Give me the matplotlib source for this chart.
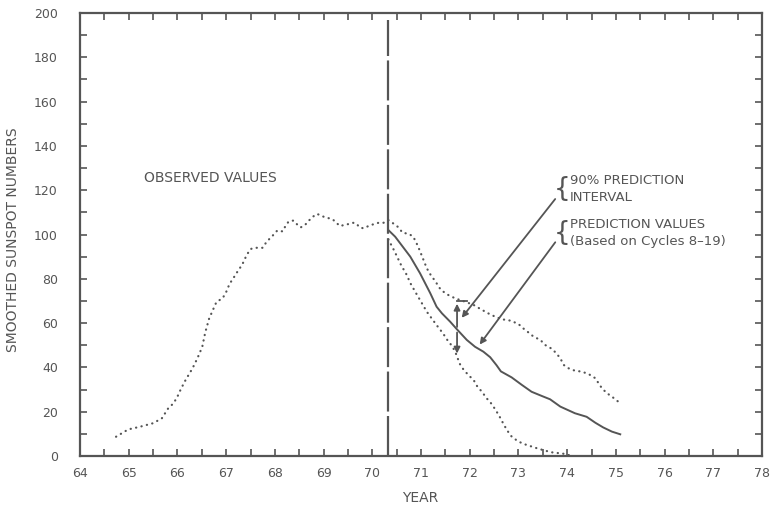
import numpy as np
import matplotlib.pyplot as plt
from matplotlib.ticker import MultipleLocator

plt.rcParams['font.family'] = ['DejaVu Sans']
ink = '#555555'

# 观测值（点线）
obs_year = [64.74, 64.99, 65.23, 65.5, 65.68, 65.81, 65.92, 66.0, 66.07, 66.16, 66.24, 66.31,
            66.41, 66.51, 66.57, 66.65, 66.74, 66.8, 66.93, 67.0, 67.07, 67.16, 67.24, 67.33,
            67.4, 67.49, 67.57, 67.67, 67.75, 67.83, 67.96, 68.05, 68.16, 68.21, 68.28, 68.38,
            68.45, 68.53, 68.62, 68.69, 68.78, 68.86, 68.94, 69.03, 69.12, 69.19, 69.26, 69.34,
            69.42, 69.51, 69.6, 69.67, 69.74, 69.82, 69.92, 70.02, 70.13, 70.23, 70.33]
obs_val = [8.7, 12.0, 13.2, 14.8, 17.0, 21.5, 23.8, 26.8, 30.2, 34.0, 37.0, 39.6,
           44.1, 49.3, 55.7, 62.0, 66.5, 69.5, 71.3, 74.0, 77.7, 80.7, 83.5, 86.4,
           89.7, 93.3, 94.0, 94.0, 94.0, 96.7, 99.6, 101.8, 101.4, 103.5, 105.8, 106.3,
           104.7, 103.2, 104.3, 106.1, 108.0, 109.3, 108.7, 107.7, 107.3, 106.8, 105.3, 103.8,
           104.3, 104.7, 105.3, 105.0, 103.2, 102.8, 103.8, 104.6, 105.3, 105.3, 106.2]

# 90% 预测区间上界
up_year = [70.33, 70.43, 70.54, 70.62, 70.75, 70.84, 70.9, 70.97, 71.12, 71.2, 71.29, 71.41,
           71.56, 71.7, 71.9, 72.08, 72.21, 72.38, 72.55, 72.7, 72.84, 73.0, 73.1, 73.21,
           73.31, 73.45, 73.55, 73.67, 73.77, 73.86, 73.93, 74.03, 74.16, 74.3, 74.44, 74.58,
           74.68, 74.8, 74.92, 75.02, 75.12]
up_val = [106.5, 105.0, 103.2, 100.8, 100.3, 99.0, 96.5, 93.0, 84.7, 81.7, 79.0, 74.9,
          72.7, 71.2, 69.7, 68.2, 66.5, 64.4, 62.6, 61.6, 61.1, 59.6, 57.6, 55.7,
          53.9, 52.4, 50.1, 48.6, 46.6, 44.1, 41.1, 39.6, 38.5, 38.1, 37.0, 35.1,
          31.6, 28.6, 26.8, 25.0, 23.5]

# 下界
lo_year = [70.33, 70.45, 70.6, 70.69, 70.79, 70.88, 71.02, 71.12, 71.22, 71.32, 71.45, 71.54,
           71.65, 71.73, 71.79, 71.87, 71.97, 72.08, 72.15, 72.25, 72.35, 72.45, 72.54, 72.62,
           72.69, 72.77, 72.86, 72.98, 73.1, 73.24, 73.38, 73.55, 73.72, 73.89, 74.02, 74.1]
lo_val = [97.8, 92.7, 85.8, 82.5, 77.7, 74.2, 68.9, 65.1, 62.1, 59.1, 55.4, 52.4,
          49.3, 45.6, 41.8, 39.1, 36.6, 34.3, 31.6, 29.0, 26.0, 23.5, 20.5, 17.5,
          14.6, 11.5, 8.8, 6.8, 5.5, 4.5, 3.5, 2.4, 1.5, 1.2, 0.5, 0.0]

# 预测值（实线）
pred_year = [70.33, 70.47, 70.78, 70.98, 71.19, 71.32, 71.43, 71.6, 71.75, 71.94, 72.11, 72.28,
             72.42, 72.55, 72.64, 72.86, 73.07, 73.27, 73.48, 73.65, 73.86, 74.01, 74.16, 74.4,
             74.58, 74.74, 74.92, 75.09]
pred_val = [102.0, 99.0, 90.0, 82.5, 73.5, 67.4, 64.4, 60.6, 56.9, 52.4, 49.3, 47.1,
            44.6, 41.0, 38.2, 35.5, 32.1, 29.0, 27.1, 25.6, 22.3, 20.8, 19.3, 17.7,
            15.0, 12.9, 11.0, 9.8]

x_ticks = list(range(64, 79))
y_ticks = list(range(0, 201, 20))
now_year = 70.32

fig = plt.figure(figsize=(7.7, 5.05), dpi=100)
ax = fig.add_axes([80/770, 49/505, 682/770, 443/505])

dot = (0, (0.1, 2.4))
for xs, ys in [(obs_year, obs_val), (up_year, up_val), (lo_year, lo_val)]:
    ax.plot(xs, ys, color=ink, lw=1.6, ls=dot, dash_capstyle='round')
ax.plot(pred_year, pred_val, color=ink, lw=1.4)
ax.plot([now_year, now_year], [0, 197], color=ink, lw=1.6, ls=(0, (18, 2)))

# 预测区间箭头
ax.annotate('', xy=(71.74, 70), xytext=(71.74, 57),
            arrowprops=dict(arrowstyle='-|>', color=ink, lw=1.3, mutation_scale=9))
ax.annotate('', xy=(71.74, 45), xytext=(71.74, 57),
            arrowprops=dict(arrowstyle='-|>', color=ink, lw=1.3, mutation_scale=9))
ax.plot([71.74, 71.95], [70, 70], color=ink, lw=1.3)

ax.annotate('', xy=(71.8, 61.4), xytext=(73.79, 117),
            arrowprops=dict(arrowstyle='-|>', color=ink, lw=1.3, mutation_scale=9))
ax.annotate('', xy=(72.17, 49.3), xytext=(73.79, 97.5),
            arrowprops=dict(arrowstyle='-|>', color=ink, lw=1.3, mutation_scale=9))

ax.text(73.72, 120.5, '{', fontsize=19, color=ink, ha='left', va='center')
ax.text(73.72, 100.5, '{', fontsize=19, color=ink, ha='left', va='center')
ax.text(74.06, 124.5, '90% PREDICTION', fontsize=9.5, color=ink, va='center')
ax.text(74.06, 116.5, 'INTERVAL', fontsize=9.5, color=ink, va='center')
ax.text(74.06, 104.5, 'PREDICTION VALUES', fontsize=9.5, color=ink, va='center')
ax.text(74.06, 97.0, '(Based on Cycles 8\u201319)', fontsize=9.5, color=ink, va='center')
ax.text(65.31, 125.5, 'OBSERVED VALUES', fontsize=10, color=ink, va='center')

ax.set_xlim(64, 78)
ax.set_ylim(0, 200)
ax.set_xticks(x_ticks)
ax.set_yticks(y_ticks)
ax.xaxis.set_minor_locator(MultipleLocator(0.5))
ax.yaxis.set_minor_locator(MultipleLocator(10))
ax.tick_params(which='both', direction='in', top=True, right=True, length=5, width=1.2, color=ink)
ax.tick_params(axis='x', pad=8, labelsize=9, labelcolor=ink)
ax.tick_params(axis='y', pad=16, labelsize=9, labelcolor=ink)
for s in ax.spines.values():
    s.set_color(ink)
    s.set_linewidth(1.6)

fig.text(13/770, 1 - 240/505, 'SMOOTHED SUNSPOT NUMBERS', rotation=90, fontsize=10,
         color=ink, ha='center', va='center')
fig.text(420/770, 1 - 498/505, 'YEAR', fontsize=10, color=ink, ha='center', va='center')

fig.savefig('out.png', dpi=100)
